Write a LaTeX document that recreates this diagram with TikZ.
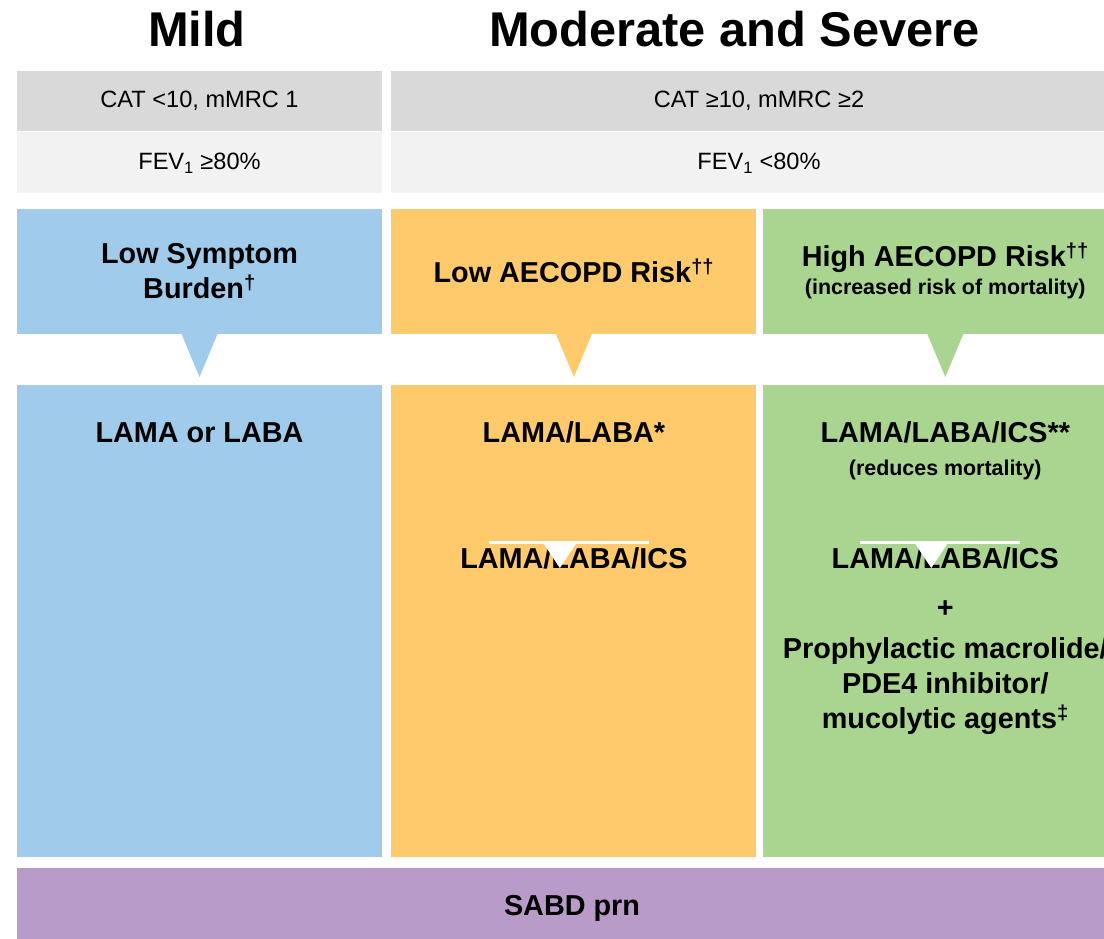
\documentclass[tikz,border=0pt]{standalone}
\usepackage{fontspec}
\setmainfont{Liberation Sans}
\usetikzlibrary{calc,positioning}
\definecolor{mildblue}{HTML}{A0CBEB}
\definecolor{lowgold}{HTML}{FFCA6B}
\definecolor{highgreen}{HTML}{A9D590}
\definecolor{sabdpurple}{HTML}{B99BC9}
\definecolor{catgray}{HTML}{D9D9D9}
\definecolor{fevgray}{HTML}{F2F2F2}
\tikzstyle{band} = [rectangle, inner sep=0pt, minimum width=365pt, text centered]
\tikzset{
  title/.style={anchor=base, font=\fontsize{48.8}{56}\selectfont\bfseries},
  crit/.style={band, minimum height=60pt, font=\fontsize{23.6}{28}\selectfont},
  riskbox/.style={band, minimum height=125pt, align=center,
    font=\fontsize{28.8}{35}\selectfont\bfseries},
  txbox/.style={band, minimum height=472pt},
  drug/.style={anchor=base, align=center, font=\fontsize{28.8}{35}\selectfont\bfseries},
  note/.style={anchor=base, font=\fontsize{21.4}{26}\selectfont\bfseries},
  escbar/.style={draw=white, line width=3pt},
}

\begin{document}
\begin{tikzpicture}[x=1pt, y=-1pt]
    \useasboundingbox (0,0) rectangle (1104,938);
    \clip (0,0) rectangle (1104,938);
    \fill[white] (0,0) rectangle (1104,938);
    % Place nodes
    \node[title] (mild) at (197,46) {Mild};
    \node[title] (modsev) at (734.5,46) {Moderate and Severe};
    \node[crit, fill=catgray] (catA) at (199.5,101) {CAT <10, mMRC 1};
    \node[crit, fill=catgray, minimum width=736pt] (catB) at (759,101) {CAT ≥10, mMRC ≥2};
    \node[crit, fill=fevgray, minimum height=61pt, below=1pt of catA] (fevA) {FEV\textsubscript{1} ≥80\%};
    \node[crit, fill=fevgray, minimum height=61pt, minimum width=736pt, below=1pt of catB] (fevB) {FEV\textsubscript{1} <80\%};
    \node[riskbox, fill=mildblue, below=15pt of fevA] (lowsym) {Low Symptom\\Burden\textsuperscript{†}};
    \node[riskbox, fill=lowgold, right=9pt of lowsym] (lowrisk) {Low AECOPD Risk\textsuperscript{††}};
    \node[riskbox, fill=highgreen, right=6pt of lowrisk] (highrisk) {High AECOPD Risk\textsuperscript{††}\\[-7pt]
      {\fontsize{21.4}{26}\selectfont (increased risk of mortality)}};
    \node[txbox, fill=mildblue, below=51pt of lowsym] (txmild) {};
    \node[txbox, fill=lowgold, below=51pt of lowrisk] (txlow) {};
    \node[txbox, fill=highgreen, below=51pt of highrisk] (txhigh) {};
    \node[band, fill=sabdpurple, minimum width=1110pt, minimum height=80pt,
      font=\fontsize{28.8}{35}\selectfont\bfseries] (sabd) at (572,908) {SABD prn};
    % Treatment texts
    \node[drug] (lamaor) at ($(txmild.north)+(0,57)$) {LAMA or LABA};
    \node[drug] (dual) at ($(txlow.north)+(0,57)$) {LAMA/LABA*};
    \node[drug] (triple) at ($(txhigh.north)+(0,57)$) {LAMA/LABA/ICS**};
    \node[note] (reduces) at ($(txhigh.north)+(0,90)$) {(reduces mortality)};
    \node[drug] (escLow) at ($(txlow.north)+(0,183)$) {LAMA/LABA/ICS};
    \node[drug] (escHigh) at ($(txhigh.north)+(0,183)$) {LAMA/LABA/ICS};
    \node[drug] (plus) at ($(txhigh.north)+(0,232)$) {+};
    \node[drug, anchor=center] (addon) at ($(txhigh.north)+(0,301)$)
      {Prophylactic macrolide/\\PDE4 inhibitor/\\mucolytic agents\textsuperscript{‡}};
    % Draw pointers
    \foreach \b/\c in {lowsym/mildblue, lowrisk/lowgold, highrisk/highgreen}
      \fill[\c] ($(\b.south)+(-18,0)$) -- ($(\b.south)+(18,0)$) -- ($(\b.south)+(0,43)$) -- cycle;
    \foreach \b in {escLow, escHigh} {
      \coordinate (\b-l) at ($(\b.base)+(-85,-26)$);
      \coordinate (\b-r) at ($(\b.base)+(75,-26)$);
      \coordinate (\b-p) at ($(\b.base)+(-32,-27)$);
      \coordinate (\b-q) at ($(\b.base)+(4,-27)$);
      \coordinate (\b-t) at ($(\b.base)+(-14,0)$);
      \draw[escbar] (\b-l) -- (\b-r);
      \fill[white] (\b-p) -- (\b-q) -- (\b-t) -- cycle;
    }
\end{tikzpicture}
\end{document}
